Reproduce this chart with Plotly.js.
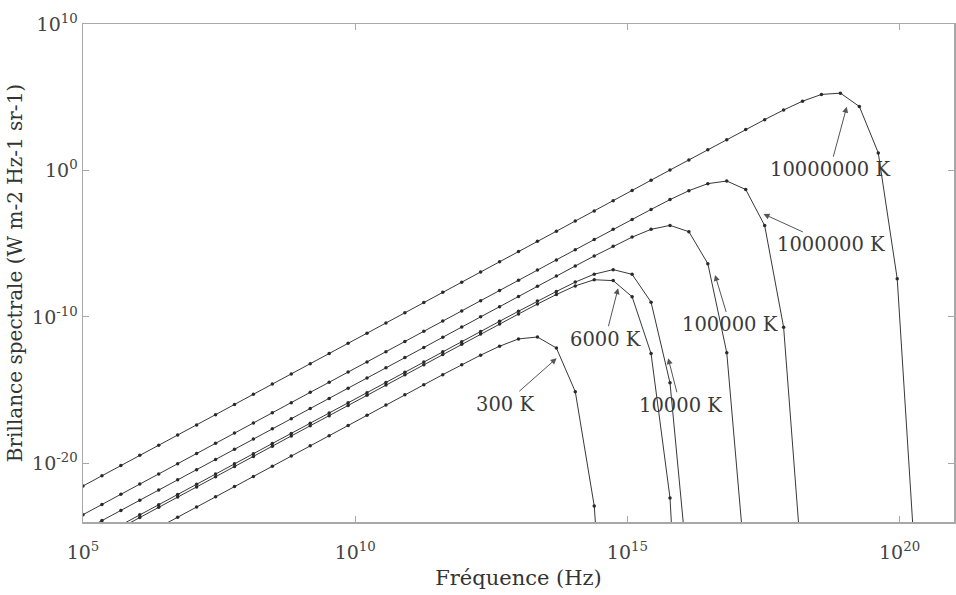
<!DOCTYPE html>
<html>
<head>
<meta charset="utf-8">
<script src="https://cdn.plot.ly/plotly-3.0.1.min.js"></script>
<style>
  html, body { margin: 0; padding: 0; background: #ffffff; }
  #chart { width: 956px; height: 595px; }
</style>
</head>
<body>
<div id="chart"></div>
<script>
// log10 of frequency (Hz) at each sample point
var logFreq = [5.000, 5.348, 5.696, 6.043, 6.391, 6.739, 7.087, 7.435, 7.783, 8.130,
  8.478, 8.826, 9.174, 9.522, 9.870, 10.217, 10.565, 10.913, 11.261, 11.609,
  11.957, 12.304, 12.652, 13.000, 13.348, 13.696, 14.043, 14.391, 14.739, 15.087,
  15.435, 15.783, 16.130, 16.478, 16.826, 17.174, 17.522, 17.870, 18.217, 18.565,
  18.913, 19.261, 19.609, 19.957, 20.304, 20.652, 21.000];

// log10 of spectral radiance for each curve (null = not drawn)
var logB_10000000K = [-21.54, -20.84, -20.15, -19.45, -18.76, -18.06, -17.37, -16.67, -15.97, -15.28,
  -14.58, -13.89, -13.19, -12.50, -11.80, -11.11, -10.41, -9.71, -9.02, -8.32,
  -7.63, -6.93, -6.24, -5.54, -4.84, -4.15, -3.45, -2.76, -2.06, -1.37,
  -0.67, 0.03, 0.72, 1.42, 2.10, 2.79, 3.47, 4.13, 4.73, 5.19,
  5.28, 4.37, 1.20, -7.40, -27.8, null, null];

var logB_1000000K = [-23.50, -22.80, -22.11, -21.41, -20.72, -20.02, -19.33, -18.63, -17.93, -17.24,
  -16.54, -15.85, -15.15, -14.46, -13.76, -13.07, -12.37, -11.67, -10.98, -10.28,
  -9.59, -8.89, -8.20, -7.50, -6.80, -6.11, -5.41, -4.72, -4.02, -3.34,
  -2.66, -1.99, -1.38, -0.90, -0.72, -1.30, -3.76, -10.70, -27.6, null,
  null, null, null, null, null, null, null];

var logB_100000K = [-24.60, -23.90, -23.21, -22.51, -21.82, -21.12, -20.43, -19.73, -19.03, -18.34,
  -17.64, -16.95, -16.25, -15.56, -14.86, -14.17, -13.47, -12.77, -12.08, -11.38,
  -10.69, -9.99, -9.30, -8.60, -7.90, -7.21, -6.52, -5.84, -5.17, -4.55,
  -4.02, -3.75, -4.18, -6.36, -12.44, -27.4, null, null, null, null,
  null, null, null, null, null, null, null];

var logB_10000K = [null, null, -24.21, -23.51, -22.82, -22.12, -21.43, -20.73, -20.03, -19.34,
  -18.64, -17.95, -17.25, -16.56, -15.86, -15.17, -14.47, -13.77, -13.08, -12.38,
  -11.69, -10.99, -10.30, -9.61, -8.92, -8.26, -7.62, -7.08, -6.77, -7.09,
  -8.99, -14.50, -28.1, null, null, null, null, null, null, null,
  null, null, null, null, null, null, null];

var logB_6000K = [null, null, -24.39, -23.69, -23.00, -22.30, -21.61, -20.91, -20.21, -19.52,
  -18.82, -18.13, -17.43, -16.74, -16.04, -15.35, -14.65, -13.95, -13.26, -12.56,
  -11.87, -11.17, -10.49, -9.80, -9.12, -8.47, -7.88, -7.46, -7.52, -8.62,
  -12.50, -22.36, -45.6, null, null, null, null, null, null, null,
  null, null, null, null, null, null, null];

var logB_300K = [null, null, null, null, -24.37, -23.67, -22.98, -22.28, -21.58, -20.89,
  -20.19, -19.50, -18.80, -18.11, -17.41, -16.72, -16.02, -15.32, -14.63, -13.94,
  -13.27, -12.61, -12.00, -11.50, -11.37, -12.12, -15.10, -22.90, -41.3, null,
  null, null, null, null, null, null, null, null, null, null,
  null, null, null, null, null, null, null];

var seriesList = [logB_10000000K, logB_1000000K, logB_100000K, logB_10000K, logB_6000K, logB_300K];

// tick labels
var xTickVals = [1e5, 1e10, 1e15, 1e20];
var xTickText = ['10<sup>5</sup>', '10<sup>10</sup>', '10<sup>15</sup>', '10<sup>20</sup>'];
var yTickVals = [1e-20, 1e-10, 1, 1e10];
var yTickText = ['10<sup>-20</sup>', '10<sup>-10</sup>', '10<sup>0</sup>', '10<sup>10</sup>'];

// curve labels
var labelText = ['10000000 K', '1000000 K', '100000 K', '10000 K', '6000 K', '300 K'];

var FONT = 'DejaVu Serif';

var freq = logFreq.map(function (v) { return Math.pow(10, v); });

var traces = seriesList.map(function (s) {
  return {
    type: 'scatter',
    mode: 'lines+markers',
    x: freq,
    y: s.map(function (v) { return v === null ? null : Math.pow(10, v); }),
    connectgaps: false,
    line: { color: '#383838', width: 1 },
    marker: { color: '#2a2a2a', size: 3.5, symbol: 'circle' },
    showlegend: false,
    hoverinfo: 'x+y'
  };
});

// arrow head positions (log10 units) and text offsets (px)
var annPos = [
  { x: 19.03, y: 4.35, ax: -17, ay: 63 },
  { x: 17.50, y: -2.97, ax: 68, ay: 31 },
  { x: 16.61, y: -7.13, ax: 15, ay: 50 },
  { x: 15.75, y: -12.82, ax: 12, ay: 47 },
  { x: 14.83, y: -8.04, ax: -13, ay: 51 },
  { x: 13.70, y: -12.82, ax: -52, ay: 46 }
];

var annotations = labelText.map(function (t, i) {
  return {
    x: annPos[i].x, y: annPos[i].y, xref: 'x', yref: 'y',
    ax: annPos[i].ax, ay: annPos[i].ay,
    text: t,
    showarrow: true,
    arrowhead: 2, arrowsize: 1.2, arrowwidth: 1, arrowcolor: '#555555',
    standoff: 0, startstandoff: 0,
    font: { family: FONT, size: 19.5, color: '#3a3a3a' }
  };
});

var axisCommon = {
  type: 'log',
  showgrid: false,
  zeroline: false,
  showline: true,
  linecolor: '#a8a8a8',
  linewidth: 1.5,
  mirror: 'ticks',
  ticks: 'inside',
  ticklen: 6,
  tickwidth: 1,
  tickcolor: '#a8a8a8',
  tickmode: 'array',
  tickfont: { family: FONT, size: 19, color: '#444444' }
};

var layout = {
  width: 956,
  height: 595,
  margin: { l: 83, r: 2, t: 24, b: 73 },
  paper_bgcolor: '#ffffff',
  plot_bgcolor: '#ffffff',
  font: { family: FONT, color: '#333333' },
  xaxis: Object.assign({}, axisCommon, {
    range: [5, 21],
    tickvals: xTickVals,
    ticktext: xTickText,
    ticklabelstandoff: 13,
    title: { text: 'Fréquence (Hz)', font: { family: FONT, size: 21, color: '#333333' }, standoff: 8 }
  }),
  yaxis: Object.assign({}, axisCommon, {
    range: [-24, 10],
    tickvals: yTickVals,
    ticktext: yTickText,
    title: { text: 'Brillance spectrale (W m-2 Hz-1 sr-1)', font: { family: FONT, size: 20, color: '#333333' }, standoff: 4 }
  }),
  annotations: annotations,
  showlegend: false
};

Plotly.newPlot('chart', traces, layout, { displayModeBar: false, staticPlot: true });
</script>
</body>
</html>
